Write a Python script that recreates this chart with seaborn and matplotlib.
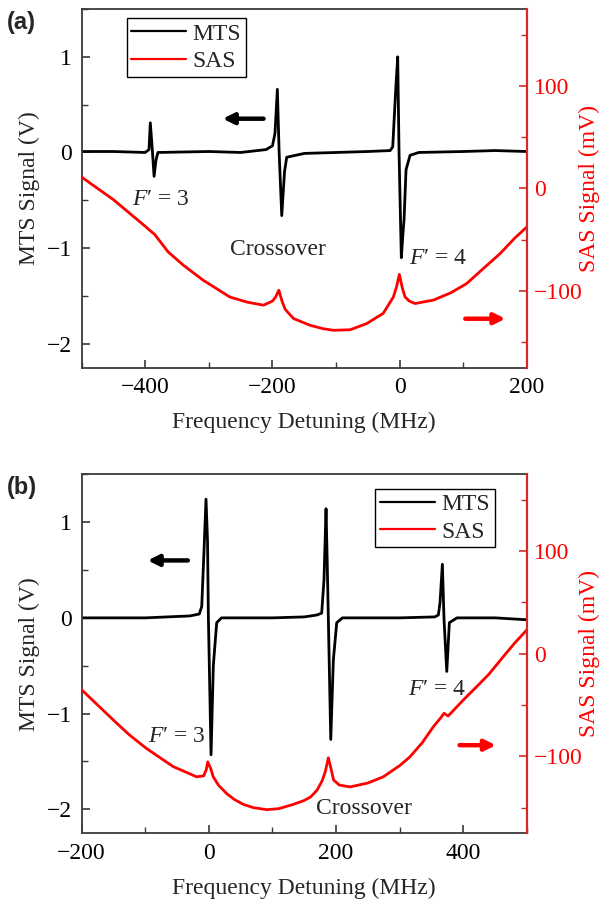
import matplotlib
matplotlib.use('Agg')
import matplotlib.pyplot as plt
from matplotlib.lines import Line2D
from matplotlib.ticker import MultipleLocator
import seaborn as sns
import pandas as pd

# ---- panel (a): MTS trace (V) ----
mts_a_x = [-500, -450, -400, -394, -391.9, -389, -386, -383, -380, -300, -250,
           -210, -200, -196, -192.3, -189.5, -185.4, -181, -177.6, -150, -100, -50,
           -15, -11, -6.3, -3.2, -1.1, 2.5, 5, 6.8, 9.9, 16.2, 30, 100, 150, 200]
mts_a_y = [0.01, 0.01, 0.0, 0.03, 0.31, 0.05, -0.25, -0.08, 0.0, 0.01, 0.0,
           0.03, 0.07, 0.2, 0.66, 0.0, -0.66, -0.2, -0.05, -0.01, 0.0, 0.01,
           0.02, 0.06, 0.66, 1.0, 0.0, -1.10, -0.85, -0.7, -0.18, -0.03, 0.0, 0.01, 0.02, 0.01]

# ---- panel (a): SAS trace (mV) ----
sas_a_x = [-500, -450, -400, -392, -385, -364, -340, -309, -267, -240, -214, -200, -195,
           -190, -185, -180, -167, -141, -120, -104, -78, -52, -26, -10, -5, -0.6,
           4, 8.3, 15, 24, 53, 80, 105, 130, 158, 180, 200]
sas_a_y = [11, -11, -37, -41.4, -45, -62, -75, -89.6, -106, -111, -114, -110, -106,
           -99.4, -110, -118, -127, -133.6, -137, -138.5, -138, -132, -122, -106, -96, -84,
           -97, -106, -110, -112.4, -109, -102, -93, -79, -63.5, -49, -37.5]

# ---- panel (b): MTS trace (V) ----
mts_b_x = [-200, -100, -30, -15, -11.1, -7.5, -4.4, -2, -0.7, 3.5, 7.1, 12.4, 20,
           100, 150, 170, 177.4, 181, 184.2, 186, 187.8, 191.6, 195.7, 201, 210,
           300, 355, 360.7, 363.3, 367, 369.6, 373.9, 378, 390, 450, 500]
mts_b_y = [0.0, 0.0, 0.02, 0.04, 0.12, 0.71, 1.24, 0.8, 0.02, -1.43, -0.5, -0.05, 0.0,
           0.0, 0.01, 0.03, 0.05, 0.4, 1.14, 0.6, 0.0, -1.27, -0.44, -0.05, 0.0,
           0.0, 0.01, 0.03, 0.16, 0.56, -0.02, -0.56, -0.05, 0.0, 0.0, -0.02]

# ---- panel (b): SAS trace (mV) ----
sas_b_x = [-200, -150, -125, -98, -75, -56, -19, -8, -4, -1.7, 3, 7, 15, 28, 40, 54, 70,
           91, 110, 133, 150, 160, 170, 178, 183, 187.8, 192, 196, 205, 222, 250, 274, 300,
           316, 335, 353, 365, 369.6, 376, 400, 421, 440, 463, 480, 500]
sas_b_y = [-35, -64.6, -79, -92.3, -102, -110, -120, -119, -113, -105.4, -112, -120, -128,
           -136.3, -142, -146.8, -150, -152, -151, -146.8, -143, -139.6, -133, -124, -115,
           -101.4, -112, -123, -128, -129.8, -126, -120, -109, -100.5, -87, -71, -62, -58,
           -60.7, -45, -32, -20, -2.6, 10, 23.5]

sns.set_theme(style='ticks')
plt.rcParams['font.family'] = ['Liberation Serif', 'DejaVu Serif']
plt.rcParams['mathtext.fontset'] = 'custom'
plt.rcParams['mathtext.rm'] = 'Liberation Serif'
plt.rcParams['mathtext.it'] = 'Liberation Serif:italic'

FS = 17
SPINE = '#3a3a3a'
RED = '#ff0000'
RED_AX = '#d42a2a'


def draw_panel(fig, rect, mts_x, mts_y, sas_x, sas_y, xlim, xticks, xminor, notes, arrows, leg_anchor, leg_loc, tag):
    ax = fig.add_axes(rect)
    ax2 = ax.twinx()

    mts = pd.DataFrame({'f': mts_x, 'v': mts_y})
    sas = pd.DataFrame({'f': sas_x, 'v': sas_y})
    sns.lineplot(data=mts, x='f', y='v', ax=ax, color='black', lw=2.0, estimator=None, sort=False)
    sns.lineplot(data=sas, x='f', y='v', ax=ax2, color=RED, lw=2.0, estimator=None, sort=False)

    ax.set_xlim(*xlim)
    ax.set_ylim(-2.25, 1.5)
    ax2.set_ylim(-175, 175)
    ax.set_xticks(xticks)
    ax.xaxis.set_minor_locator(MultipleLocator(xminor))
    ax.set_yticks([-2, -1, 0, 1])
    ax.yaxis.set_minor_locator(MultipleLocator(0.5))
    ax2.set_yticks([-100, 0, 100])
    ax2.yaxis.set_minor_locator(MultipleLocator(50))

    ax.tick_params(axis='both', which='both', direction='in', colors=SPINE,
                   labelcolor='black', labelsize=FS, pad=7, right=False, top=False)
    ax.tick_params(which='major', length=6, width=1.2)
    ax.tick_params(which='minor', length=4, width=1.0)
    ax2.tick_params(axis='y', which='both', direction='in', colors=RED_AX,
                    labelcolor=RED, labelsize=FS, pad=5)
    ax2.tick_params(which='major', length=6, width=1.2)
    ax2.tick_params(which='minor', length=4, width=1.0)

    for s in ['left', 'bottom', 'top']:
        ax.spines[s].set_color(SPINE)
        ax.spines[s].set_linewidth(1.3)
        ax2.spines[s].set_visible(False)
    ax.spines['right'].set_visible(False)
    ax2.spines['right'].set_color(RED_AX)
    ax2.spines['right'].set_linewidth(1.6)

    ax.set_xlabel('Frequency Detuning (MHz)', fontsize=FS, labelpad=10)
    ax.set_ylabel('MTS Signal (V)', fontsize=FS, labelpad=5)
    ax2.set_ylabel('SAS Signal (mV)', fontsize=FS, color=RED)
    ax2.yaxis.set_label_coords(1.116, 0.5)

    for x, y, s in notes:
        ax.text(x, y, s, fontsize=FS, ha='left', va='center')
    for tail, head, c in arrows:
        ax.annotate('', xy=head, xytext=tail,
                    arrowprops=dict(arrowstyle='-|>', color=c, lw=3.2, mutation_scale=16,
                                    shrinkA=0, shrinkB=0))

    handles = [Line2D([], [], color='black', lw=1.6), Line2D([], [], color=RED, lw=1.6)]
    leg = ax2.legend(handles, ['MTS', 'SAS'], loc=leg_loc, bbox_to_anchor=leg_anchor,
                     fontsize=FS, frameon=True, fancybox=False, framealpha=1,
                     edgecolor='black', handlelength=2.3, handletextpad=0.3,
                     borderpad=0.2, labelspacing=0.25, borderaxespad=0)
    leg.get_frame().set_linewidth(1.0)

    fig.text(7 / 603, rect[1] + rect[3] - 2 / 907, tag, fontsize=17, fontweight='bold',
             family='Liberation Sans', ha='left', va='top')
    return ax, ax2


fig = plt.figure(figsize=(6.03, 9.07), dpi=100)

draw_panel(fig, [0.1352, 0.5946, 0.7388, 0.3955],
           mts_a_x, mts_a_y, sas_a_x, sas_a_y,
           (-500, 200), [-400, -200, 0, 200], 100,
           [(-420, -0.49, "$F$′ = 3"), (-267, -1.01, 'Crossover'), (14, -1.11, "$F$′ = 4")],
           [((-214, 0.353), (-278, 0.353), 'black'), ((103, -1.738), (166, -1.738), RED)],
           (0.101, 0.974), 'upper left', '(a)')

draw_panel(fig, [0.1352, 0.0813, 0.7388, 0.3958],
           mts_b_x, mts_b_y, sas_b_x, sas_b_y,
           (-200, 500), [-200, 0, 200, 400], 100,
           [(-95, -1.24, "$F$′ = 3"), (168, -1.99, 'Crossover'), (313, -0.75, "$F$′ = 4")],
           [((-33, 0.6), (-96, 0.6), 'black'), ((394, -1.33), (451, -1.33), RED)],
           (0.928, 0.959), 'upper right', '(b)')

fig.savefig('out.png', dpi=100)
